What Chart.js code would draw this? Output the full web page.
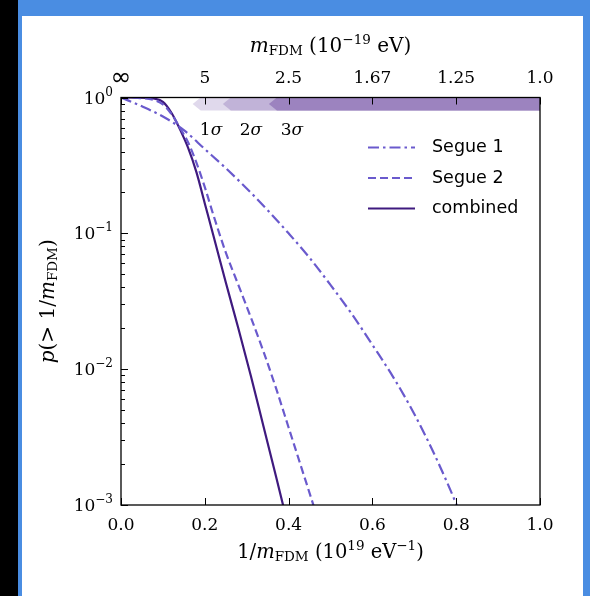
<!DOCTYPE html>
<html>
<head>
<meta charset="utf-8">
<script src="https://cdn.jsdelivr.net/npm/chart.js@4"></script>
<style>
  html, body { margin: 0; padding: 0; }
  body { width: 590px; height: 596px; background: #4a8de2; position: relative; overflow: hidden; }
  #strip { position: absolute; left: 0; top: 0; width: 18px; height: 596px; background: #000; }
  #paper { position: absolute; left: 22px; top: 16px; width: 561px; height: 580px; background: #fff; }
  #chart { position: absolute; left: 0; top: 0; }
</style>
</head>
<body>
<div id="strip"></div>
<div id="paper"></div>
<canvas id="chart" width="590" height="596"></canvas>
<script>
// data: x = 1/m_FDM (1e19 eV^-1), p = p(> 1/m_FDM)
const xSegue1 = [0, 0.05, 0.10, 0.15, 0.20, 0.25, 0.30, 0.35, 0.40, 0.45, 0.50, 0.55, 0.60, 0.65, 0.70, 0.75, 0.80, 0.82];
const pSegue1 = [1.0, 0.861, 0.724, 0.575, 0.417, 0.302, 0.214, 0.148, 0.100, 0.0661, 0.0417, 0.0257, 0.0151, 0.00871, 0.00468, 0.00229, 0.00102, 0.00071];

const xSegue2 = [0, 0.04, 0.08, 0.10, 0.12, 0.14, 0.16, 0.18, 0.20, 0.22, 0.25, 0.28, 0.31, 0.34, 0.37, 0.40, 0.43, 0.46, 0.47];
const pSegue2 = [1.0, 0.993, 0.955, 0.891, 0.759, 0.603, 0.468, 0.331, 0.219, 0.138, 0.0724, 0.0417, 0.0240, 0.0135, 0.00724, 0.00372, 0.00191, 0.00098, 0.00078];

const xCombined = [0, 0.04, 0.08, 0.10, 0.12, 0.14, 0.16, 0.18, 0.20, 0.22, 0.25, 0.28, 0.31, 0.34, 0.37, 0.39, 0.40];
const pCombined = [1.0, 0.998, 0.98, 0.93, 0.776, 0.589, 0.427, 0.282, 0.166, 0.0977, 0.0437, 0.0200, 0.00891, 0.0038, 0.00162, 0.00091, 0.00068];

// tick labels
const xTickValues = [0, 0.2, 0.4, 0.6, 0.8, 1.0];
const bottomTickLabels = ['0.0', '0.2', '0.4', '0.6', '0.8', '1.0'];
const topTickLabels = ['\u221e', '5', '2.5', '1.67', '1.25', '1.0'];
const yTickExponents = [0, -1, -2, -3];

// exclusion bands (lower edge in 1/m_FDM) and their labels
const sigmaNames = ['1', '2', '3'];
const sigmaEdges = [0.171, 0.243, 0.353];
const sigmaLabelAt = [0.215, 0.31, 0.408];

const SERIF = '"DejaVu Serif", serif';
const R = s => `${s}px ${SERIF}`;
const I = s => `italic ${s}px ${SERIF}`;
const SANS = '17.5px "DejaVu Sans", sans-serif';
const INF = '25px "DejaVu Sans", sans-serif';

function pts(xs, ps) {
    return xs.map((x, i) => ({ x: x, y: ps[i] }));
}

function drawRich(ctx, parts, x, y, align) {
    let w = 0;
    parts.forEach(p => { ctx.font = p.f; w += ctx.measureText(p.t).width; });
    let cx = align === 'center' ? x - w / 2 : (align === 'right' ? x - w : x);
    ctx.textAlign = 'left';
    ctx.textBaseline = 'alphabetic';
    parts.forEach(p => {
        ctx.font = p.f;
        ctx.fillText(p.t, cx, y + (p.dy || 0));
        cx += ctx.measureText(p.t).width;
    });
}

const deco = {
    id: 'deco',
    beforeDatasetsDraw(chart) {
        const { ctx, chartArea: a, scales: { x } } = chart;
        const bandColors = ['#e0d9ec', '#c1b3d8', '#9c83bf'];
        const h = 13;
        ctx.save();
        sigmaEdges.forEach((edge, i) => {
            const tip = x.getPixelForValue(edge);
            ctx.beginPath();
            ctx.moveTo(tip, a.top + h / 2);
            ctx.lineTo(tip + 8, a.top);
            ctx.lineTo(a.right, a.top);
            ctx.lineTo(a.right, a.top + h);
            ctx.lineTo(tip + 8, a.top + h);
            ctx.closePath();
            ctx.fillStyle = bandColors[i];
            ctx.fill();
        });
        ctx.fillStyle = '#000';
        sigmaNames.forEach((n, i) => {
            drawRich(ctx, [{ t: n, f: R(17) }, { t: '\u03c3', f: I(17) }],
                x.getPixelForValue(sigmaLabelAt[i]), a.top + 37, 'center');
        });
        ctx.restore();
    },
    afterDraw(chart) {
        const { ctx, chartArea: a, scales: { x, y } } = chart;
        ctx.save();
        ctx.strokeStyle = '#000';
        ctx.fillStyle = '#000';
        ctx.lineWidth = 1.3;
        ctx.strokeRect(a.left, a.top, a.right - a.left, a.bottom - a.top);

        // x ticks, inward on both top and bottom
        ctx.lineWidth = 1;
        ctx.beginPath();
        xTickValues.forEach(v => {
            const px = Math.round(x.getPixelForValue(v)) + 0.5;
            ctx.moveTo(px, a.bottom); ctx.lineTo(px, a.bottom - 7);
            ctx.moveTo(px, a.top); ctx.lineTo(px, a.top + 7);
        });
        // y ticks, major and minor (log)
        yTickExponents.forEach(e => {
            const py = Math.round(y.getPixelForValue(Math.pow(10, e))) + 0.5;
            ctx.moveTo(a.left, py); ctx.lineTo(a.left + 7, py);
            if (e < 0) {
                for (let m = 2; m <= 9; m++) {
                    const pm = Math.round(y.getPixelForValue(m * Math.pow(10, e))) + 0.5;
                    ctx.moveTo(a.left, pm); ctx.lineTo(a.left + 4, pm);
                }
            }
        });
        ctx.stroke();

        // tick labels
        xTickValues.forEach((v, i) => {
            const px = x.getPixelForValue(v);
            drawRich(ctx, [{ t: bottomTickLabels[i], f: R(17) }], px, a.bottom + 25, 'center');
            const top = topTickLabels[i];
            if (top === '\u221e') {
                drawRich(ctx, [{ t: top, f: INF }], px, a.top - 13, 'center');
            } else {
                drawRich(ctx, [{ t: top, f: R(17) }], px, a.top - 14.5, 'center');
            }
        });
        yTickExponents.forEach(e => {
            const py = y.getPixelForValue(Math.pow(10, e));
            const ex = e === 0 ? '0' : '\u2212' + Math.abs(e);
            drawRich(ctx, [{ t: '10', f: R(17) }, { t: ex, f: R(12), dy: -8 }], a.left - 8, py + 6, 'right');
        });

        // axis titles
        const cx = (a.left + a.right) / 2;
        drawRich(ctx, [
            { t: 'm', f: I(20) }, { t: 'FDM', f: R(13.5), dy: 3 },
            { t: ' (10', f: R(20) }, { t: '\u221219', f: R(13.5), dy: -8 },
            { t: ' eV)', f: R(20) }
        ], cx, a.top - 46, 'center');
        drawRich(ctx, [
            { t: '1/', f: R(19.5) }, { t: 'm', f: I(19.5) }, { t: 'FDM', f: R(13.5), dy: 3 },
            { t: ' (10', f: R(19.5) }, { t: '19', f: R(13.5), dy: -8 },
            { t: ' eV', f: R(19.5) }, { t: '\u22121', f: R(13.5), dy: -8 }, { t: ')', f: R(19.5) }
        ], cx, a.bottom + 53, 'center');
        ctx.save();
        ctx.translate(a.left - 67, (a.top + a.bottom) / 2);
        ctx.rotate(-Math.PI / 2);
        drawRich(ctx, [
            { t: 'p', f: I(20) }, { t: '(> 1/', f: R(20) }, { t: 'm', f: I(20) },
            { t: 'FDM', f: R(13.5), dy: 3 }, { t: ')', f: R(20) }
        ], 0, 0, 'center');
        ctx.restore();

        // legend in the upper right
        chart.data.datasets.forEach((ds, i) => {
            const ly = a.top + 50 + i * 30.5;
            ctx.save();
            ctx.strokeStyle = ds.borderColor;
            ctx.lineWidth = ds.borderWidth;
            ctx.setLineDash(ds.borderDash || []);
            ctx.beginPath();
            ctx.moveTo(a.right - 172, ly);
            ctx.lineTo(a.right - 125, ly);
            ctx.stroke();
            ctx.restore();
            ctx.font = SANS;
            ctx.textAlign = 'left';
            ctx.textBaseline = 'middle';
            ctx.fillText(ds.label, a.right - 108, ly);
        });
        ctx.restore();
    }
};

new Chart(document.getElementById('chart'), {
    type: 'scatter',
    data: {
        datasets: [{
            label: 'Segue 1',
            data: pts(xSegue1, pSegue1),
            borderColor: '#6a5acd',
            borderWidth: 2.2,
            borderDash: [11, 4, 2.5, 4],
            showLine: true,
            pointRadius: 0,
            cubicInterpolationMode: 'monotone'
        }, {
            label: 'Segue 2',
            data: pts(xSegue2, pSegue2),
            borderColor: '#6a5acd',
            borderWidth: 2.2,
            borderDash: [8, 4],
            showLine: true,
            pointRadius: 0,
            cubicInterpolationMode: 'monotone'
        }, {
            label: 'combined',
            data: pts(xCombined, pCombined),
            borderColor: '#3f1a7f',
            borderWidth: 2.2,
            showLine: true,
            pointRadius: 0,
            cubicInterpolationMode: 'monotone'
        }]
    },
    options: {
        responsive: false,
        animation: false,
        devicePixelRatio: 1,
        layout: { padding: { left: 121, right: 50, top: 97.5, bottom: 91 } },
        scales: {
            x: { type: 'linear', min: 0, max: 1, display: false },
            y: { type: 'logarithmic', min: 0.001, max: 1, display: false }
        },
        plugins: {
            legend: { display: false },
            tooltip: { enabled: false }
        }
    },
    plugins: [deco]
});
</script>
</body>
</html>
